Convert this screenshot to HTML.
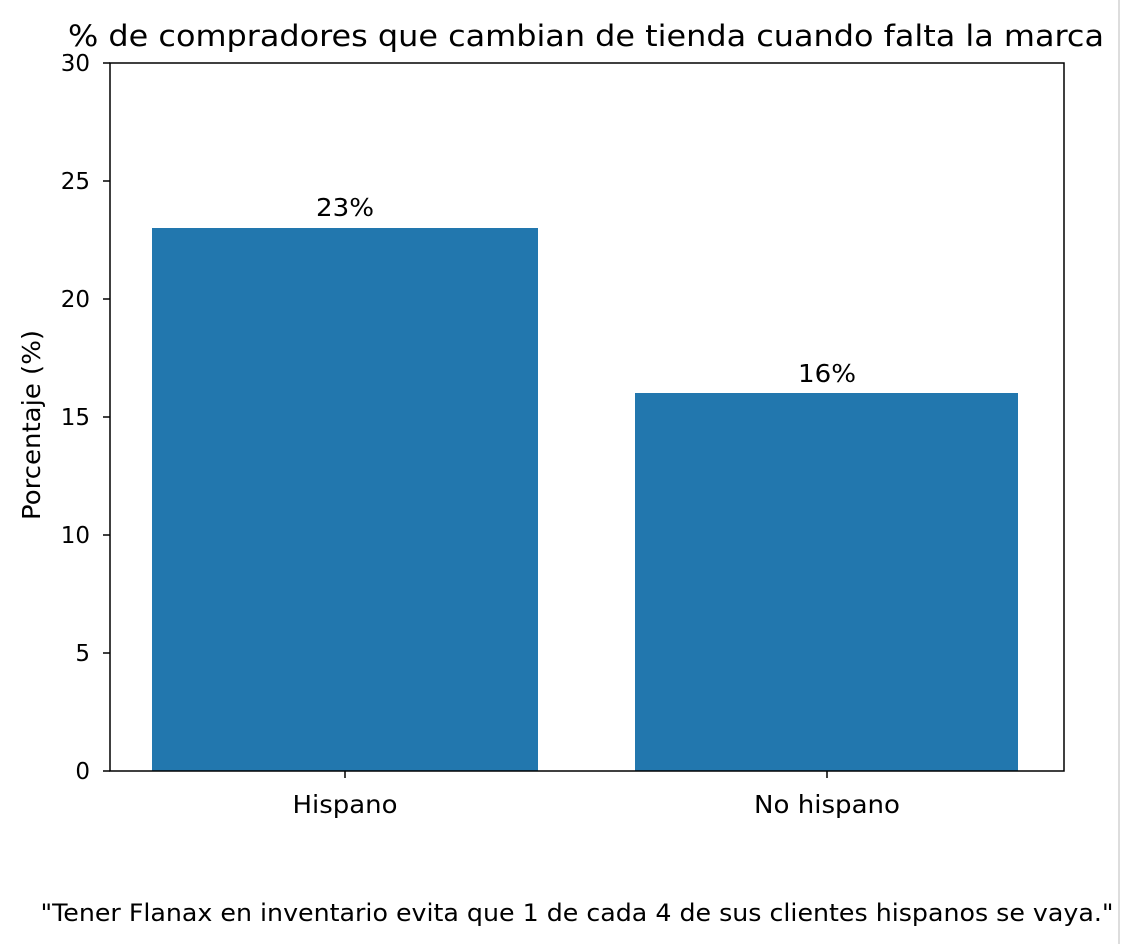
<!DOCTYPE html>
<html><head><meta charset="utf-8"><style>html,body{margin:0;padding:0;background:#fff}</style></head>
<body>
<svg width="1121" height="944" xmlns="http://www.w3.org/2000/svg" font-family="DejaVu Sans, Liberation Sans, sans-serif">
<rect width="1121" height="944" fill="#fff"/>
<line x1="1119" y1="0" x2="1119" y2="944" stroke="#ddd" stroke-width="2"/>
<text x="586" y="46" font-size="29" text-anchor="middle" textLength="1036" lengthAdjust="spacingAndGlyphs" fill="#000">% de compradores que cambian de tienda cuando falta la marca</text>
<rect x="152" y="228" width="386" height="543" fill="#2277ae"/>
<rect x="635" y="393" width="383" height="378" fill="#2277ae"/>
<rect x="110" y="63" width="954" height="708" fill="none" stroke="#000" stroke-width="1.5"/>
<g font-size="23" text-anchor="end" fill="#000">
<text x="90" y="779">0</text><text x="90" y="661">5</text><text x="90" y="543">10</text>
<text x="90" y="425">15</text><text x="90" y="307">20</text><text x="90" y="189">25</text><text x="90" y="71">30</text>
</g>
<g stroke="#000" stroke-width="1.5">
<line x1="103" y1="771" x2="110" y2="771"/><line x1="103" y1="653" x2="110" y2="653"/><line x1="103" y1="535" x2="110" y2="535"/>
<line x1="103" y1="417" x2="110" y2="417"/><line x1="103" y1="299" x2="110" y2="299"/><line x1="103" y1="181" x2="110" y2="181"/><line x1="103" y1="63" x2="110" y2="63"/>
<line x1="345" y1="771" x2="345" y2="778"/><line x1="827" y1="771" x2="827" y2="778"/>
</g>
<g font-size="25" text-anchor="middle" fill="#000">
<text x="345" y="813" textLength="105" lengthAdjust="spacingAndGlyphs">Hispano</text><text x="827" y="813" textLength="146" lengthAdjust="spacingAndGlyphs">No hispano</text>
<text x="345" y="216" textLength="58" lengthAdjust="spacingAndGlyphs">23%</text><text x="827" y="382" textLength="58" lengthAdjust="spacingAndGlyphs">16%</text>
</g>
<text x="0" y="0" font-size="25" text-anchor="middle" textLength="190" lengthAdjust="spacingAndGlyphs" transform="translate(40,425) rotate(-90)">Porcentaje (%)</text>
<text x="577" y="921" font-size="24" text-anchor="middle" textLength="1073" lengthAdjust="spacingAndGlyphs">"Tener Flanax en inventario evita que 1 de cada 4 de sus clientes hispanos se vaya."</text>
</svg>
</body></html>
